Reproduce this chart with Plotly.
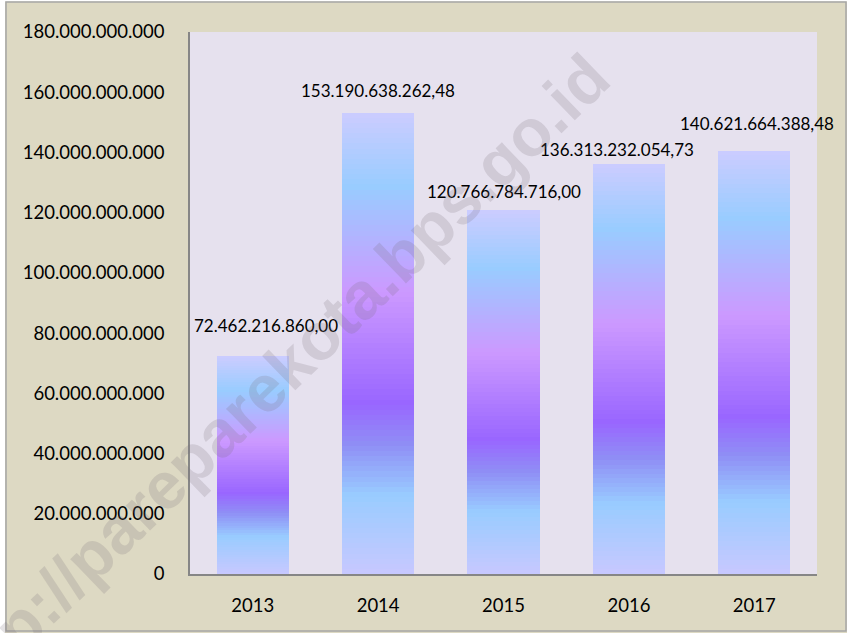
import plotly.graph_objects as go

# Realisasi per tahun (Rupiah)
years = ["2013", "2014", "2015", "2016", "2017"]
values = [72462216860.00, 153190638262.48, 120766784716.00, 136313232054.73, 140621664388.48]

# gradient stops along each bar, from bottom (0) to top (1)
stop_pos = [0.00, 0.17, 0.28, 0.37, 0.61, 0.84, 1.00]
stop_col = ["#c8c8ff", "#99ccff", "#8f8ff5", "#9966ff", "#cc99ff", "#99ccff", "#ccccff"]

# label nudges (px) so the labels sit like in the original
label_dx = [13, 0, 0, -12, 3]
label_dy = [30, 22, 19, 14, 27]


def fmt_id(v):
    s = f"{v:,.2f}"
    return s.replace(",", "X").replace(".", ",").replace("X", ".")


def hex2rgb(h):
    h = h.lstrip("#")
    return [int(h[i:i + 2], 16) for i in (0, 2, 4)]


def grad(t):
    for i in range(len(stop_pos) - 1):
        if stop_pos[i] <= t <= stop_pos[i + 1]:
            f = (t - stop_pos[i]) / (stop_pos[i + 1] - stop_pos[i])
            a, b = hex2rgb(stop_col[i]), hex2rgb(stop_col[i + 1])
            c = [round(a[k] + (b[k] - a[k]) * f) for k in range(3)]
            return f"rgb({c[0]},{c[1]},{c[2]})"
    return stop_col[-1]


# each bar is a stack of thin slices so it gets a vertical gradient
N = 90
fig = go.Figure()
for i in range(N):
    fig.add_trace(go.Bar(
        x=years, y=[v / N for v in values],
        marker=dict(color=grad((i + 0.5) / N), line=dict(width=0)),
        hoverinfo="skip", showlegend=False,
    ))

# value labels (x given as category index so numeric-looking years aren't read as numbers)
for k, (v, dx, dy) in enumerate(zip(values, label_dx, label_dy)):
    fig.add_annotation(x=k, y=v, text=fmt_id(v), showarrow=False,
                       xshift=dx, yshift=dy, yanchor="middle",
                       font=dict(family="Lato", size=17, color="black"))

# watermark
fig.add_annotation(xref="paper", yref="paper", x=0.129, y=0.354,
                   xanchor="center", yanchor="middle",
                   text="http://pareparekota.bps.go.id", showarrow=False,
                   textangle=-44,
                   font=dict(family="Liberation Sans", size=66, weight="bold",
                             color="rgba(120,110,120,0.2)"))

# outer frame of the chart area
px2x = lambda p: (p - 190) / 627
py2y = lambda p: (574 - p) / 542
fig.add_shape(type="rect", xref="paper", yref="paper",
              x0=px2x(0), x1=px2x(5), y0=py2y(633), y1=py2y(0),
              fillcolor="white", line=dict(width=0), layer="above")
fig.add_shape(type="rect", xref="paper", yref="paper",
              x0=px2x(0), x1=px2x(847), y0=py2y(1.5), y1=py2y(0),
              fillcolor="white", line=dict(width=0), layer="above")
fig.add_shape(type="rect", xref="paper", yref="paper",
              x0=px2x(6), x1=px2x(846), y0=py2y(631), y1=py2y(2),
              fillcolor="rgba(0,0,0,0)", line=dict(color="#a6a6a6", width=1.5))

fig.update_layout(
    width=847, height=633,
    barmode="stack", bargap=0.425,
    separators=",.",
    paper_bgcolor="#ddd9c3",
    plot_bgcolor="#e6e1ee",
    margin=dict(l=190, r=30, t=32, b=59),
    font=dict(family="Lato", color="black"),
    xaxis=dict(type="category", range=[-0.5, 4.5],
               showline=True, linecolor="#868686", linewidth=1.5,
               ticks="", tickfont=dict(size=18.5), ticklabelstandoff=14,
               showgrid=False),
    yaxis=dict(range=[0, 180e9], dtick=20e9, tickformat=",.0f",
               showline=True, linecolor="#868686", linewidth=1.5,
               ticks="", tickfont=dict(size=18.5), ticklabelstandoff=20,
               showgrid=False, zeroline=False),
)

fig.write_html("out.html", config={"displayModeBar": False},
               post_script="document.body.style.margin='0';")
